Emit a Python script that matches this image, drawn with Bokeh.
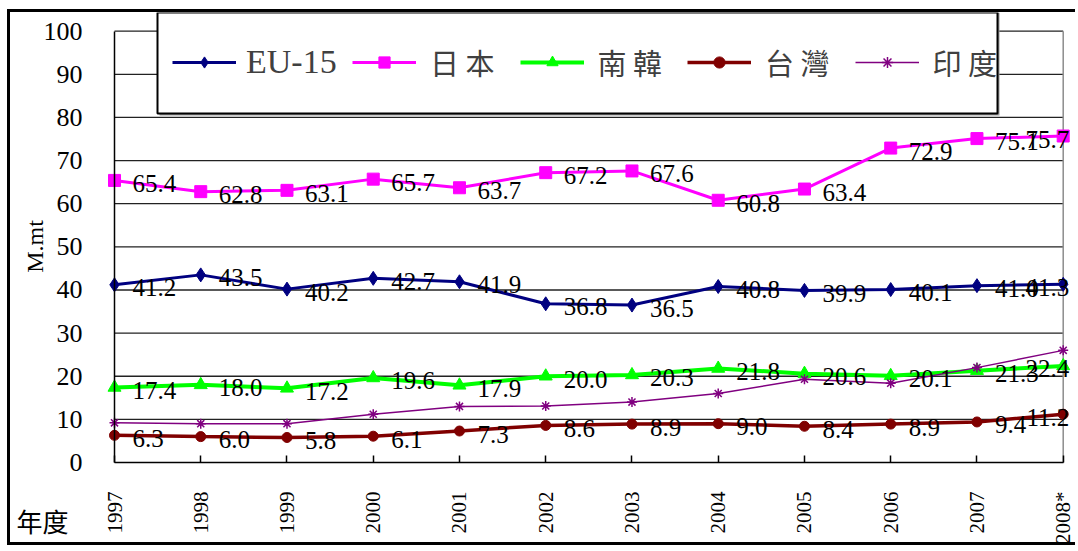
import math

from bokeh.core.properties import value
from bokeh.embed import file_html
from bokeh.models import (BoxAnnotation, ColumnDataSource, FixedTicker, Label,
                          Legend, LegendItem, LinearAxis, Range1d)
from bokeh.plotting import figure
from bokeh.resources import INLINE

# ---------------------------------------------------------------- data
years = ["1997", "1998", "1999", "2000", "2001", "2002",
         "2003", "2004", "2005", "2006", "2007", "2008*"]

eu15 = [41.2, 43.5, 40.2, 42.7, 41.9, 36.8, 36.5, 40.8, 39.9, 40.1, 41.0, 41.3]
japan = [65.4, 62.8, 63.1, 65.7, 63.7, 67.2, 67.6, 60.8, 63.4, 72.9, 75.1, 75.7]
korea = [17.4, 18.0, 17.2, 19.6, 17.9, 20.0, 20.3, 21.8, 20.6, 20.1, 21.3, 22.4]
taiwan = [6.3, 6.0, 5.8, 6.1, 7.3, 8.6, 8.9, 9.0, 8.4, 8.9, 9.4, 11.2]
india = [9.2, 9.0, 9.0, 11.2, 13.0, 13.1, 14.0, 16.0, 19.3, 18.4, 22.0, 26.0]

series_names = ["EU-15", "日本", "南韓", "台灣", "印度"]
y_ticks = [0, 10, 20, 30, 40, 50, 60, 70, 80, 90, 100]
y_label = "M.mt"
x_label = "年度"

# ---------------------------------------------------------------- layout (page pixels)
ORIGIN_X, ORIGIN_Y = 10, 12          # canvas corner, inside the 3px chart border
CANVAS_W, CANVAS_H = 1068, 536
PLOT_L, PLOT_R, PLOT_T, PLOT_B = 114.0, 1062.7, 30.7, 462.0   # value area

n = len(years)
xs = list(range(n))
px_per_x = (PLOT_R - PLOT_L) / (n - 1)
px_per_y = (PLOT_B - PLOT_T) / y_ticks[-1]


def data_x(px):
    return (px - PLOT_L) / px_per_x


def data_y(py):
    return (PLOT_B - py) / px_per_y


# the drawing frame fills the whole canvas; axes sit at fixed locations in it
x_start, x_end = data_x(ORIGIN_X), data_x(ORIGIN_X + CANVAS_W)
y_start, y_end = data_y(ORIGIN_Y + CANVAS_H), data_y(ORIGIN_Y)

SERIF = "Liberation Serif"
CJK = "Noto Sans CJK TC"

p = figure(width=CANVAS_W, height=CANVAS_H,
           x_range=Range1d(x_start, x_end), y_range=Range1d(y_start, y_end),
           x_axis_type=None, y_axis_type=None,
           output_backend="svg", toolbar_location=None,
           min_border=0, min_border_left=0, min_border_right=0,
           min_border_top=0, min_border_bottom=0)
p.margin = (9, 0, 0, 7)
p.styles = {"border-left": "3px solid #000000",
            "border-top": "3px solid #000000",
            "border-bottom": "3px solid #000000"}
p.outline_line_color = None
p.background_fill_color = "white"
p.border_fill_color = "white"

# ---------------------------------------------------------------- axes
xaxis = LinearAxis(ticker=FixedTicker(ticks=xs), bounds=(0, n - 1),
                   fixed_location=0)
xaxis.major_label_overrides = {i: y for i, y in enumerate(years)}
xaxis.major_label_orientation = math.pi / 2
xaxis.major_label_text_font = SERIF
xaxis.major_label_text_font_size = "21px"
xaxis.major_label_text_color = "black"
xaxis.major_label_standoff = 29
xaxis.major_tick_in = 7
xaxis.major_tick_out = 0
xaxis.major_tick_line_color = "black"
xaxis.major_tick_line_width = 1.5
xaxis.minor_tick_line_color = None
xaxis.axis_line_color = "black"
xaxis.axis_line_width = 1.5
p.add_layout(xaxis, "below")

yaxis = LinearAxis(ticker=FixedTicker(ticks=y_ticks), bounds=(0, y_ticks[-1]),
                   fixed_location=0)
yaxis.major_label_text_font = SERIF
yaxis.major_label_text_font_size = "26px"
yaxis.major_label_text_color = "black"
yaxis.major_label_standoff = 32
yaxis.major_tick_in = 0
yaxis.major_tick_out = 0
yaxis.minor_tick_line_color = None
yaxis.axis_line_color = "black"
yaxis.axis_line_width = 1.5
p.add_layout(yaxis, "left")

# horizontal gridlines across the value area and its grey right edge
levels = y_ticks[1:]
p.segment(x0=[0] * len(levels), y0=levels, x1=[n - 1] * len(levels), y1=levels,
          line_color="#222222", line_width=1.3)
p.segment(x0=[n - 1], y0=[0], x1=[n - 1], y1=[y_ticks[-1]],
          line_color="#8c8c8c", line_width=1.5)

# ---------------------------------------------------------------- series
styles = [
    # values,  colour,    width, marker,     size
    (eu15,   "#000080", 3.0, "diamond",  14),
    (japan,  "#FF00FF", 3.0, "square",   12),
    (korea,  "#00FF00", 4.0, "triangle", 13),
    (taiwan, "#800000", 3.5, "circle",   10),
    (india,  "#800080", 1.5, "asterisk", 10),
]

legend_renderers = []
for vals, color, lw, marker, size in styles:
    src = ColumnDataSource(dict(x=xs, y=vals))
    ln = p.line("x", "y", source=src, line_color=color, line_width=lw)
    if marker == "asterisk":
        mk = p.scatter("x", "y", source=src, marker=marker, size=size,
                       line_color=color, line_width=1.5)
    else:
        mk = p.scatter("x", "y", source=src, marker=marker, size=size,
                       fill_color=color, line_color=color)
    legend_renderers.append([ln, mk])

# value labels (India carries none)
for vals in (eu15, japan, korea, taiwan):
    body = ColumnDataSource(dict(x=xs[:-1], y=vals[:-1],
                                 t=[f"{v:.1f}" for v in vals[:-1]]))
    last = ColumnDataSource(dict(x=xs[-1:], y=vals[-1:],
                                 t=[f"{v:.1f}" for v in vals[-1:]]))
    p.text("x", "y", text="t", source=body, text_font=value(SERIF),
           text_font_size="25px", text_color="black", text_align="left",
           text_baseline="middle", x_offset=18, y_offset=3)
    p.text("x", "y", text="t", source=last, text_font=value(SERIF),
           text_font_size="25px", text_color="black", text_align="right",
           text_baseline="middle", x_offset=6, y_offset=3)

# ---------------------------------------------------------------- legend
# soft grey drop shadow, then the white legend panel
shadow = BoxAnnotation(left=data_x(159), right=data_x(999),
                       bottom=data_y(115), top=y_end,
                       fill_color="#9a9a9a", fill_alpha=1.0,
                       line_color=None)
box = BoxAnnotation(left=data_x(157), right=data_x(997),
                    bottom=data_y(113), top=y_end,
                    fill_color="white", fill_alpha=1.0,
                    line_color="black", line_width=2, line_alpha=1.0)
p.add_layout(shadow)
p.add_layout(box)

FRAME_B = ORIGIN_Y + CANVAS_H
LEG_CY = 61.7
common = dict(orientation="horizontal", border_line_color=None,
              background_fill_alpha=0.0, padding=0, margin=0,
              glyph_width=64, glyph_height=28, label_height=28,
              label_text_color="#404040")

leg_eu = Legend(items=[LegendItem(label=series_names[0],
                                  renderers=legend_renderers[0])],
                location=(172 - ORIGIN_X, FRAME_B - LEG_CY - 19.5),
                label_standoff=10, label_text_font=SERIF,
                label_text_font_size="34px", **common)
cjk_items = [LegendItem(label=" ".join(name), renderers=rs)
             for name, rs in zip(series_names[1:], legend_renderers[1:])]
leg_cjk = Legend(items=cjk_items,
                 location=(352 - ORIGIN_X, FRAME_B - LEG_CY - 21),
                 spacing=25, label_standoff=14, label_text_font=CJK,
                 label_text_font_size="29px", **common)
p.add_layout(leg_eu)
p.add_layout(leg_cjk)

# ---------------------------------------------------------------- axis titles
p.add_layout(Label(x=data_x(34), y=data_y(246), text=y_label, angle=math.pi / 2,
                   text_font=SERIF, text_font_size="24px", text_color="black",
                   text_align="center", text_baseline="middle"))
p.add_layout(Label(x=data_x(42), y=data_y(520), text=x_label,
                   text_font=CJK, text_font_size="26px", text_color="black",
                   text_align="center", text_baseline="middle"))

open("out.html", "w").write(file_html(p, INLINE))
